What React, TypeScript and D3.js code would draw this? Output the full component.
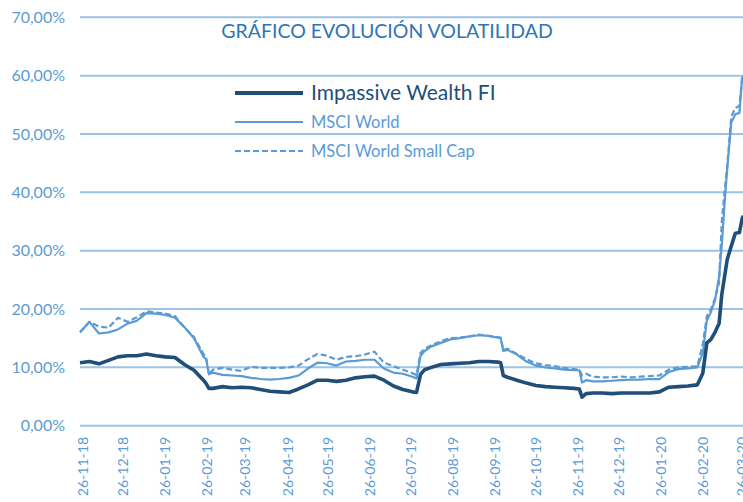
import * as d3 from 'd3';

// weekly observations (extra points around the sharp steps)
const dates = [
  '2018-11-24', '2018-12-01', '2018-12-08', '2018-12-15', '2018-12-22', '2018-12-29', '2019-01-05', '2019-01-12', '2019-01-19', '2019-01-26',
  '2019-02-02', '2019-02-09', '2019-02-16', '2019-02-23', '2019-02-25', '2019-02-27', '2019-03-02', '2019-03-09', '2019-03-16', '2019-03-23',
  '2019-03-30', '2019-04-06', '2019-04-13', '2019-04-20', '2019-04-27', '2019-05-04', '2019-05-11', '2019-05-18', '2019-05-25', '2019-06-01',
  '2019-06-08', '2019-06-15', '2019-06-22', '2019-06-29', '2019-07-06', '2019-07-13', '2019-07-20', '2019-07-27', '2019-07-30', '2019-08-02',
  '2019-08-05', '2019-08-10', '2019-08-17', '2019-08-24', '2019-08-31', '2019-09-07', '2019-09-14', '2019-09-21', '2019-09-28', '2019-09-30',
  '2019-10-02', '2019-10-05', '2019-10-12', '2019-10-19', '2019-10-26', '2019-11-02', '2019-11-09', '2019-11-16', '2019-11-23', '2019-11-27',
  '2019-11-29', '2019-12-02', '2019-12-07', '2019-12-14', '2019-12-21', '2019-12-28', '2020-01-04', '2020-01-11', '2020-01-18', '2020-01-25',
  '2020-02-01', '2020-02-08', '2020-02-15', '2020-02-22', '2020-02-26', '2020-02-29', '2020-03-03', '2020-03-06', '2020-03-09', '2020-03-11',
  '2020-03-13', '2020-03-15', '2020-03-18', '2020-03-21', '2020-03-24', '2020-03-26', '2020-03-27',
];

const impassive = [
  10.8, 11.0, 10.6, 11.2, 11.8, 12.0, 12.0, 12.3, 12.0, 11.8,
  11.7, 10.5, 9.5, 7.8, 7.2, 6.4, 6.4, 6.7, 6.5, 6.6,
  6.5, 6.2, 5.9, 5.8, 5.7, 6.3, 7.0, 7.8, 7.8, 7.6,
  7.8, 8.2, 8.4, 8.5, 7.8, 6.8, 6.2, 5.8, 5.7, 8.8,
  9.6, 10.0, 10.5, 10.6, 10.7, 10.8, 11.0, 11.0, 10.9, 10.8,
  8.6, 8.3, 7.8, 7.3, 6.9, 6.7, 6.6, 6.5, 6.4, 6.3,
  4.9, 5.5, 5.6, 5.6, 5.5, 5.6, 5.6, 5.6, 5.6, 5.8,
  6.6, 6.7, 6.8, 7.0, 9.0, 14.2, 14.8, 16.0, 17.5, 22.5,
  25.5, 28.5, 30.8, 33.0, 33.1, 35.5, 36.0,
];

const msciWorld = [
  16.0, 17.8, 15.8, 16.0, 16.5, 17.5, 18.0, 19.3, 19.2, 19.0,
  18.5, 16.9, 15.0, 11.8, 11.4, 8.8, 9.1, 8.7, 8.6, 8.5,
  8.2, 8.0, 7.9, 8.0, 8.2, 8.6, 9.8, 10.8, 10.7, 10.3,
  11.0, 11.1, 11.3, 11.3, 9.8, 9.1, 8.9, 8.4, 8.1, 12.0,
  12.8, 13.6, 14.2, 14.8, 15.0, 15.3, 15.5, 15.4, 15.1, 15.0,
  12.8, 13.0, 12.2, 11.0, 10.3, 10.0, 9.8, 9.6, 9.5, 9.5,
  7.4, 7.8, 7.6, 7.6, 7.7, 7.8, 7.9, 7.9, 8.0, 8.0,
  9.2, 9.7, 9.8, 10.0, 12.5, 18.0, 19.5, 21.5, 25.5, 31.0,
  38.0, 44.0, 52.0, 53.4, 53.6, 59.5, 60.0,
];

const msciSmallCap = [
  16.0, 17.8, 17.0, 16.8, 18.5, 17.8, 18.6, 19.6, 19.4, 19.2,
  18.8, 16.8, 15.2, 12.3, 11.6, 8.8, 9.6, 9.9, 9.6, 9.4,
  10.1, 9.9, 9.9, 9.9, 10.0, 10.3, 11.4, 12.3, 12.0, 11.3,
  11.8, 11.9, 12.2, 12.7, 10.8, 10.2, 9.6, 9.0, 8.7, 12.5,
  13.2, 13.8, 14.5, 15.0, 15.1, 15.3, 15.6, 15.4, 15.2, 15.1,
  13.0, 13.2, 12.3, 11.4, 10.7, 10.4, 10.2, 9.9, 9.7, 9.6,
  8.6, 8.9, 8.4, 8.3, 8.3, 8.4, 8.3, 8.4, 8.5, 8.6,
  9.6, 10.0, 10.1, 10.2, 14.0, 18.8, 20.0, 21.8, 24.5, 35.0,
  40.0, 44.5, 53.0, 54.5, 54.8, 59.8, 60.0,
];

const xTickLabels = [
  '26-11-18', '26-12-18', '26-01-19', '26-02-19', '26-03-19', '26-04-19', '26-05-19', '26-06-19', '26-07-19',
  '26-08-19', '26-09-19', '26-10-19', '26-11-19', '26-12-19', '26-01-20', '26-02-20', '26-03-20',
];
const yTicks = [0, 10, 20, 30, 40, 50, 60, 70];

const W = 743;
const H = 502;
const FONT = 'Lato, "Open Sans", sans-serif';
const DARK = '#1f4e79';
const LIGHT = '#5b9bd5';
const GRID = '#9dc3e6';

export default function App() {
  const parseIso = d3.timeParse('%Y-%m-%d');
  const parseTick = d3.timeParse('%d-%m-%y');

  const x = d3
    .scaleTime()
    .domain([parseIso('2018-11-24') as Date, parseIso('2020-03-27') as Date])
    .range([80, 743.5]);
  const y = d3.scaleLinear().domain([0, 70]).range([425.7, 17.3]);

  const line = d3
    .line<number>()
    .x((_, i) => x(parseIso(dates[i]) as Date))
    .y((d) => y(d));

  const fmt = (v: number) => v.toFixed(2).replace('.', ',') + '%';

  const series = [
    { key: 'msci', values: msciWorld, color: LIGHT, width: 2.2, dash: '0' },
    { key: 'small', values: msciSmallCap, color: LIGHT, width: 2.2, dash: '6,3' },
    { key: 'iw', values: impassive, color: DARK, width: 3.6, dash: '0' },
  ];

  return (
    <svg
      width={W}
      height={H}
      style={{ position: 'absolute', left: 0, top: 0, background: '#fff' }}
      fontFamily={FONT}
    >
      <rect width={W} height={H} fill="#fff" />

      {/* gridlines */}
      {yTicks.map((t) => (
        <line key={t} x1={80} x2={W} y1={y(t)} y2={y(t)} stroke={GRID} strokeWidth={2} />
      ))}

      {/* y labels */}
      {yTicks.map((t) => (
        <text key={'l' + t} x={65} y={y(t)} dy="0.35em" textAnchor="end" fontSize={16} fill={LIGHT}>
          {fmt(t)}
        </text>
      ))}

      {/* x labels, rotated */}
      {xTickLabels.map((lab) => {
        const px = x(parseTick(lab) as Date);
        return (
          <text
            key={lab}
            transform={`translate(${px},437) rotate(-90)`}
            dy="0.35em"
            textAnchor="end"
            fontSize={14}
            fill={LIGHT}
          >
            {lab}
          </text>
        );
      })}

      {/* lines */}
      {series.map((s) => (
        <path
          key={s.key}
          d={line(s.values) ?? ''}
          fill="none"
          stroke={s.color}
          strokeWidth={s.width}
          strokeDasharray={s.dash}
          strokeLinejoin="round"
        />
      ))}

      {/* title */}
      <text x={387} y={38} textAnchor="middle" fontSize={19.5} fill="#2e75b6">
        GRÁFICO EVOLUCIÓN VOLATILIDAD
      </text>

      {/* legend */}
      <line x1={235} x2={303} y1={93} y2={93} stroke={DARK} strokeWidth={4} />
      <text x={311} y={100} fontSize={21} fill={DARK}>
        Impassive Wealth FI
      </text>
      <line x1={235} x2={303} y1={122} y2={122} stroke={LIGHT} strokeWidth={2.2} />
      <text x={311} y={128} fontSize={16.5} fill={LIGHT}>
        MSCI World
      </text>
      <line x1={235} x2={303} y1={151} y2={151} stroke={LIGHT} strokeWidth={2.2} strokeDasharray="6,3" />
      <text x={311} y={157} fontSize={16.5} fill={LIGHT}>
        MSCI World Small Cap
      </text>
    </svg>
  );
}
